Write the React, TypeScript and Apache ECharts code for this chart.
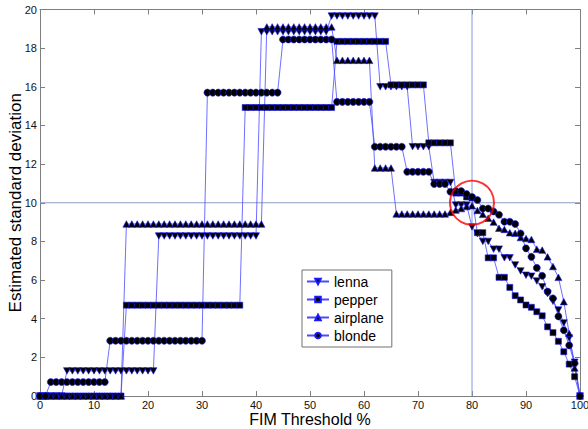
import React, { useEffect, useRef } from 'react';
import * as echarts from 'echarts';

// FIM threshold in percent (x positions of all samples)
const thresholds = Array.from({ length: 101 }, (_, i) => i);

const lenna = [
  0, 0, 0, 0, 0,
  1.3, 1.3, 1.3, 1.3, 1.3, 1.3, 1.3, 1.3, 1.3, 1.3, 1.3, 1.3, 1.3, 1.3, 1.3, 1.3, 1.3,
  8.28, 8.28, 8.28, 8.28, 8.28, 8.28, 8.28, 8.28, 8.28, 8.28, 8.28, 8.28, 8.28, 8.28, 8.28, 8.28, 8.28, 8.28, 8.28,
  18.85, 18.85, 18.85, 18.85, 18.85, 18.85, 18.85, 18.85, 18.85, 18.85, 18.85, 18.85, 18.85,
  19.66, 19.66, 19.66, 19.66, 19.66, 19.66, 19.66, 19.66, 19.66,
  16.0, 16.0, 16.0, 16.0, 16.0, 16.0,
  12.9, 12.9, 12.9, 12.9,
  11.05, 11.05, 11.05, 11.05,
  9.88, 9.88, 9.88,
  8.75, 8.4, 8.0, 8.0, 7.6, 7.6, 7.15, 7.15, 6.78, 6.47, 6.25, 6.2, 5.95, 5.65, 5.3, 4.9, 4.45, 3.78, 3.0, 1.75, 0,
];

const pepper = [
  0, 0, 0, 0, 0, 0, 0, 0, 0, 0, 0, 0, 0, 0, 0, 0,
  4.7, 4.7, 4.7, 4.7, 4.7, 4.7, 4.7, 4.7, 4.7, 4.7, 4.7, 4.7, 4.7, 4.7, 4.7, 4.7, 4.7, 4.7, 4.7, 4.7, 4.7, 4.7,
  14.93, 14.93, 14.93, 14.93, 14.93, 14.93, 14.93, 14.93, 14.93, 14.93, 14.93, 14.93, 14.93, 14.93, 14.93, 14.93, 14.93,
  18.35, 18.35, 18.35, 18.35, 18.35, 18.35, 18.35, 18.35, 18.35, 18.35,
  16.1, 16.1, 16.1, 16.1, 16.1, 16.1, 16.1,
  13.1, 13.1, 13.1, 13.1, 13.1,
  10.5, 10.5, 10.3, 10.25, 8.45, 8.45, 7.15, 7.15, 6.14, 6.14,
  5.62, 5.19, 4.97, 4.71, 4.59, 4.36, 4.15, 3.58, 3.28, 2.83, 2.29, 1.65, 1.0, 0,
];

const airplane = [
  0, 0, 0, 0, 0, 0, 0, 0, 0, 0, 0, 0, 0, 0, 0, 0,
  8.9, 8.9, 8.9, 8.9, 8.9, 8.9, 8.9, 8.9, 8.9, 8.9, 8.9, 8.9, 8.9, 8.9, 8.9, 8.9, 8.9, 8.9, 8.9, 8.9, 8.9, 8.9, 8.9, 8.9, 8.9, 8.9,
  19.1, 19.1, 19.1, 19.1, 19.1, 19.1, 19.1, 19.1, 19.1, 19.1, 19.1, 19.1, 19.1,
  17.37, 17.37, 17.37, 17.37, 17.37, 17.37, 17.37,
  11.8, 11.8, 11.8, 11.8,
  9.42, 9.42, 9.42, 9.42, 9.42, 9.42, 9.42, 9.42, 9.42, 9.42,
  9.5, 9.62, 9.7, 9.8, 9.85, 9.6, 9.4, 9.2, 9.0, 8.68, 8.62, 8.45, 8.42, 8.2, 8.15, 8.1,
  7.6, 7.55, 7.2, 6.7, 6.14, 4.88, 3.24, 1.45, 0,
];

const blonde = [
  0, 0,
  0.72, 0.72, 0.72, 0.72, 0.72, 0.72, 0.72, 0.72, 0.72, 0.72, 0.72,
  2.86, 2.86, 2.86, 2.86, 2.86, 2.86, 2.86, 2.86, 2.86, 2.86, 2.86, 2.86, 2.86, 2.86, 2.86, 2.86, 2.86, 2.86,
  15.7, 15.7, 15.7, 15.7, 15.7, 15.7, 15.7, 15.7, 15.7, 15.7, 15.7, 15.7, 15.7, 15.7,
  18.45, 18.45, 18.45, 18.45, 18.45, 18.45, 18.45, 18.45, 18.45, 18.45,
  15.22, 15.22, 15.22, 15.22, 15.22, 15.22, 15.22,
  12.9, 12.9, 12.9, 12.9, 12.9, 12.9,
  11.6, 11.6, 11.6, 11.6, 11.6,
  10.97, 10.97, 10.97,
  10.57, 10.6, 10.6, 10.45, 10.3, 10.14, 9.7, 9.7, 9.55, 9.38, 9.02, 9.02, 8.9, 8.41,
  7.64, 7.2, 6.63, 6.22, 5.4, 5.05, 4.12, 3.4, 2.62, 1.69, 0,
];

const seriesNames = ['lenna', 'pepper', 'airplane', 'blonde'];
const refY = 10;
const refX = 80;
const highlight = [80, 10];

const FONT = '"Liberation Sans", Arial, sans-serif';

export default function App() {
  const ref = useRef<HTMLDivElement>(null);

  useEffect(() => {
    if (!ref.current) return;
    const chart = echarts.init(ref.current, null, { renderer: 'svg' });

    const toPairs = (vals: number[]) => vals.map((v, i) => [thresholds[i], v]);

    const mk = (name: string, vals: number[], symbol: string, size: number | number[]) => ({
      name,
      type: 'line',
      data: toPairs(vals),
      symbol,
      symbolSize: size,
      showAllSymbol: true,
      lineStyle: { color: '#4a4aff', width: 0.8 },
      itemStyle: { color: '#000000', borderColor: '#1a1aff', borderWidth: 0.6 },
      emphasis: { disabled: true },
      silent: true,
      z: 3,
    });

    const axisLineStyle = { color: '#7f7f7f', width: 1 };

    const option = {
      animation: false,
      backgroundColor: '#ffffff',
      textStyle: { fontFamily: FONT },
      grid: { left: 40, right: 8, top: 9.5, bottom: 33, containLabel: false, outerBoundsMode: 'none' },
      legend: {
        data: seriesNames,
        orient: 'vertical',
        left: 302,
        top: 270,
        itemWidth: 22,
        itemHeight: 7,
        itemGap: 3,
        padding: [4, 8, 4, 4],
        backgroundColor: '#ffffff',
        borderColor: '#707070',
        borderWidth: 1,
        borderRadius: 0,
        textStyle: { fontSize: 14, color: '#000', fontFamily: FONT, lineHeight: 15 },
        selectedMode: false,
      },
      xAxis: [
        {
          type: 'value', min: 0, max: 100, interval: 10, position: 'bottom',
          name: 'FIM Threshold %', nameLocation: 'middle', nameGap: 15, nameMoveOverlap: false,
          nameTextStyle: { fontSize: 16, color: '#000', fontFamily: FONT, verticalAlign: 'top', lineHeight: 17 },
          axisLine: { show: true, onZero: false, lineStyle: axisLineStyle },
          axisTick: { show: true, inside: true, length: 5, lineStyle: axisLineStyle },
          axisLabel: { fontSize: 11, color: '#111', margin: 3, fontFamily: FONT, lineHeight: 12 },
          splitLine: { show: false },
        },
        {
          type: 'value', min: 0, max: 100, interval: 10, position: 'top',
          axisLine: { show: true, onZero: false, lineStyle: axisLineStyle },
          axisTick: { show: true, inside: true, length: 5, lineStyle: axisLineStyle },
          axisLabel: { show: false },
          splitLine: { show: false },
        },
      ],
      yAxis: [
        {
          type: 'value', min: 0, max: 20, interval: 2, position: 'left',
          name: 'Estimated standard deviation', nameLocation: 'middle', nameGap: 16, nameMoveOverlap: false,
          nameTextStyle: { fontSize: 17, color: '#000', fontFamily: FONT },
          axisLine: { show: true, onZero: false, lineStyle: axisLineStyle },
          axisTick: { show: true, inside: true, length: 5, lineStyle: axisLineStyle },
          axisLabel: { fontSize: 11, color: '#111', margin: 3, fontFamily: FONT },
          splitLine: { show: false },
        },
        {
          type: 'value', min: 0, max: 20, interval: 2, position: 'right',
          axisLine: { show: true, onZero: false, lineStyle: axisLineStyle },
          axisTick: { show: true, inside: true, length: 5, lineStyle: axisLineStyle },
          axisLabel: { show: false },
          splitLine: { show: false },
        },
      ],
      series: [
        {
          name: 'refY', type: 'line', data: [[0, refY], [100, refY]], symbol: 'none',
          lineStyle: { color: '#8c9cc4', width: 1 }, silent: true, z: 1,
        },
        {
          name: 'refX', type: 'line', data: [[refX, 0], [refX, 20]], symbol: 'none',
          lineStyle: { color: '#7f9be0', width: 1 }, silent: true, z: 1,
        },
        mk('lenna', lenna, 'path://M0,0L10,0L5,9Z', [7, 6.5]),
        mk('pepper', pepper, 'rect', 6),
        mk('airplane', airplane, 'triangle', [7, 6.5]),
        mk('blonde', blonde, 'circle', 7),
        {
          name: 'highlight', type: 'scatter', data: [highlight], symbol: 'circle', symbolSize: 44,
          itemStyle: { color: 'rgba(0,0,0,0)', borderColor: '#ff0000', borderWidth: 2 },
          silent: true, z: 10,
        },
      ],
    };

    chart.setOption(option as any);
    return () => chart.dispose();
  }, []);

  return (
    <div
      ref={ref}
      style={{ position: 'absolute', left: 0, top: 0, width: 588, height: 429 }}
    />
  );
}
